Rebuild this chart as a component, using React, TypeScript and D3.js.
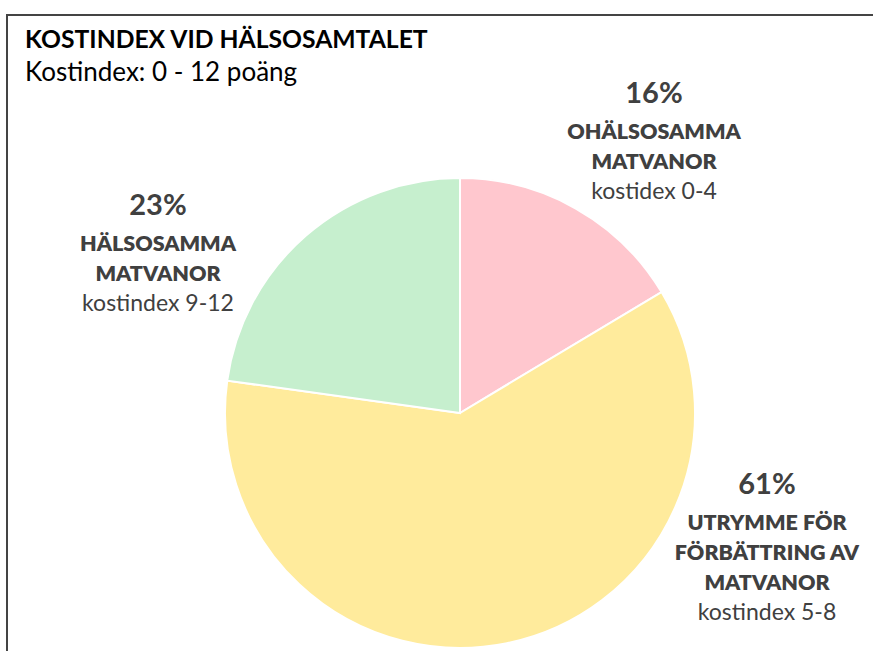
import React from 'react';
import * as d3 from 'd3';

const categories = ['OHÄLSOSAMMA MATVANOR', 'UTRYMME FÖR FÖRBÄTTRING AV MATVANOR', 'HÄLSOSAMMA MATVANOR'];
const values = [16.4, 60.8, 22.8];
const percentLabels = ['16%', '61%', '23%'];
const labelLines = [['OHÄLSOSAMMA', 'MATVANOR'], ['UTRYMME FÖR', 'FÖRBÄTTRING AV', 'MATVANOR'], ['HÄLSOSAMMA', 'MATVANOR']];
const subLabels = ['kostidex 0-4', 'kostindex 5-8', 'kostindex 9-12'];
const colors = ['#FFC7CE', '#FFEB9C', '#C6EFCE'];

const W = 873;
const H = 651;
const cx = 460;
const cy = 413;
const radius = 235;
// percent baseline of each label block
const labelAnchors = [
  { x: 654, y: 103 },
  { x: 767, y: 494 },
  { x: 158, y: 215 },
];

const font = 'Lato, "Open Sans", sans-serif';

export default function App() {
  const pie = d3.pie<number>().sort(null).value(d => d);
  const arcs = pie(values);
  const arc = d3.arc<d3.PieArcDatum<number>>().innerRadius(0).outerRadius(radius);

  return (
    <svg width={W} height={H} style={{ position: 'absolute', left: 0, top: 0 }}>
      <rect x={0} y={0} width={W} height={H} fill="#fff" />
      <path d={`M7,${H} V15 H${W}`} fill="none" stroke="#444" strokeWidth={2} />
      <text x={25} y={48} fontFamily={font} fontWeight="bold" fontSize={24.7} fill="#000">
        KOSTINDEX VID HÄLSOSAMTALET
      </text>
      <text x={25} y={81} fontFamily={font} fontSize={26} fill="#000">
        Kostindex: 0 - 12 poäng
      </text>
      <g transform={`translate(${cx},${cy})`}>
        {arcs.map((a, i) => (
          <path key={categories[i]} d={arc(a) || ''} fill={colors[i]} stroke="#fff" strokeWidth={2} />
        ))}
      </g>
      {arcs.map((a, i) => {
        const p = labelAnchors[i];
        return (
          <g key={'l' + i} fontFamily={font} fill="#404040" textAnchor="middle">
            <text x={p.x} y={p.y} fontSize={29} fontWeight="bold">{percentLabels[i]}</text>
            {labelLines[i].map((t, j) => (
              <text key={j} x={p.x} y={p.y + 36 + j * 30} fontSize={21.5} fontWeight={800}>{t}</text>
            ))}
            <text x={p.x} y={p.y + 36 + labelLines[i].length * 30} fontSize={23}>{subLabels[i]}</text>
          </g>
        );
      })}
    </svg>
  );
}
